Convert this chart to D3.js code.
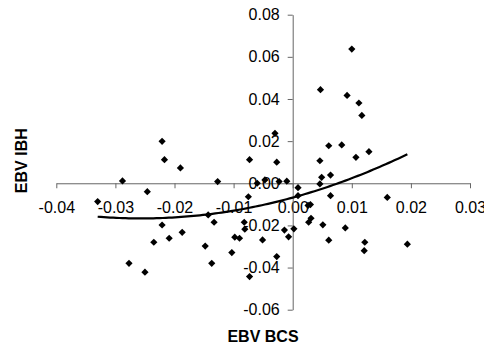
<!DOCTYPE html>
<html>
<head>
<meta charset="utf-8">
<script src="https://cdn.jsdelivr.net/npm/d3@7"></script>
<style>
  html, body { margin: 0; padding: 0; background: #fff; }
  svg { display: block; }
  text { font-family: "Liberation Sans", Arial, sans-serif; }
</style>
</head>
<body>
<svg id="chart" width="484" height="347"></svg>
<script>
// EBV BCS (x) values
const ebvBCS = [
  -0.0330, -0.0288, -0.0246, -0.0277, -0.0250, -0.0235, -0.0221, -0.0217, -0.0221, -0.0209,
  -0.0190, -0.0187, -0.0148, -0.0143, -0.0133, -0.0137, -0.0127, -0.0103, -0.0098, -0.0090,
  -0.0082, -0.0081, -0.0075, -0.0073, -0.0073, -0.0060, -0.0047, -0.0051, -0.0030, -0.0027,
  -0.0027, -0.0023, -0.0010, -0.0014, -0.0007, 0.0002, 0.0009, 0.0009, 0.0026, 0.0030,
  0.0027, 0.0031, 0.0046, 0.0047, 0.0049, 0.0046, 0.0051, 0.0061, 0.0064, 0.0064,
  0.0061, 0.0083, 0.0089, 0.0092, 0.0100, 0.0107, 0.0112, 0.0117, 0.0122, 0.0121,
  0.0129, 0.0160, 0.0194
];
// EBV IBH (y) values
const ebvIBH = [
  -0.0087, 0.0011, -0.0040, -0.0380, -0.0422, -0.0280, 0.0199, 0.0112, -0.0198, -0.0261,
  0.0073, -0.0233, -0.0298, -0.0150, -0.0185, -0.0380, 0.0008, -0.0329, -0.0256, -0.0261,
  -0.0185, -0.0218, -0.0064, 0.0112, -0.0443, 0.0000, 0.0016, -0.0269, 0.0237, 0.0100,
  -0.0348, 0.0008, 0.0010, -0.0222, -0.0254, -0.0216, -0.0021, -0.0059, -0.0105, -0.0101,
  -0.0185, -0.0166, 0.0107, 0.0444, 0.0028, -0.0003, -0.0197, 0.0178, 0.0039, -0.0059,
  -0.0270, 0.0182, -0.0212, 0.0417, 0.0637, 0.0123, 0.0381, 0.0322, -0.0280, -0.0320,
  0.0150, -0.0067, -0.0289
];
// Polynomial (order 2) trendline coefficients: y = c0 + c1*x + c2*x^2
const trendCoef = [-0.0068, 0.77, 15];
const xTicks = [-0.04, -0.03, -0.02, -0.01, 0.00, 0.01, 0.02, 0.03];
const yTicks = [-0.06, -0.04, -0.02, 0.00, 0.02, 0.04, 0.06, 0.08];
const xTitle = "EBV BCS";
const yTitle = "EBV IBH";

const svg = d3.select("#chart");
const x = d3.scaleLinear().domain([-0.04, 0.03]).range([56.3, 470]);
const y = d3.scaleLinear().domain([-0.06, 0.08]).range([309.7, 14.7]);
const fmt = d => d.toFixed(2).replace("-0.00", "0.00");
const axisColor = "#666666";

// X axis (crosses at y = 0)
const gx = svg.append("g")
  .attr("transform", `translate(0,${y(0)})`)
  .call(d3.axisBottom(x).tickValues(xTicks).tickSize(5).tickSizeOuter(0).tickPadding(13).tickFormat(fmt));
// Y axis (crosses at x = 0)
const gy = svg.append("g")
  .attr("transform", `translate(${x(0)},0)`)
  .call(d3.axisLeft(y).tickValues(yTicks).tickSize(5).tickSizeOuter(0).tickPadding(8).tickFormat(fmt));

[gx, gy].forEach(g => {
  g.selectAll("path.domain").attr("stroke", axisColor).attr("stroke-width", 1);
  g.selectAll(".tick line").attr("stroke", axisColor).attr("stroke-width", 1);
  g.selectAll(".tick text").attr("fill", "#000").style("font-size", "16px")
    .style("font-family", "'Liberation Sans', Arial, sans-serif");
});

// Points (diamonds)
const pts = ebvBCS.map((v, i) => [v, ebvIBH[i]]);
const r = 3.6;
svg.append("g").selectAll("path.pt").data(pts).join("path")
  .attr("class", "pt")
  .attr("d", d => {
    const cx = x(d[0]), cy = y(d[1]);
    return `M${cx},${cy - r}L${cx + r},${cy}L${cx},${cy + r}L${cx - r},${cy}Z`;
  })
  .attr("fill", "#000");

// Trendline
const xMin = d3.min(ebvBCS), xMax = d3.max(ebvBCS);
const tx = d3.range(0, 101).map(i => xMin + (xMax - xMin) * i / 100);
const line = d3.line().x(d => x(d)).y(d => y(trendCoef[0] + trendCoef[1] * d + trendCoef[2] * d * d)).curve(d3.curveLinear);
svg.append("path").datum(tx).attr("d", line)
  .attr("fill", "none").attr("stroke", "#000").attr("stroke-width", 2.2);

// Axis titles
svg.append("text").attr("x", 263).attr("y", 342).attr("text-anchor", "middle")
  .style("font-size", "16px").style("font-weight", "bold").text(xTitle);
svg.append("text").attr("transform", "translate(26.5,160.7) rotate(-90)").attr("text-anchor", "middle")
  .style("font-size", "16px").style("font-weight", "bold").text(yTitle);
</script>
</body>
</html>
